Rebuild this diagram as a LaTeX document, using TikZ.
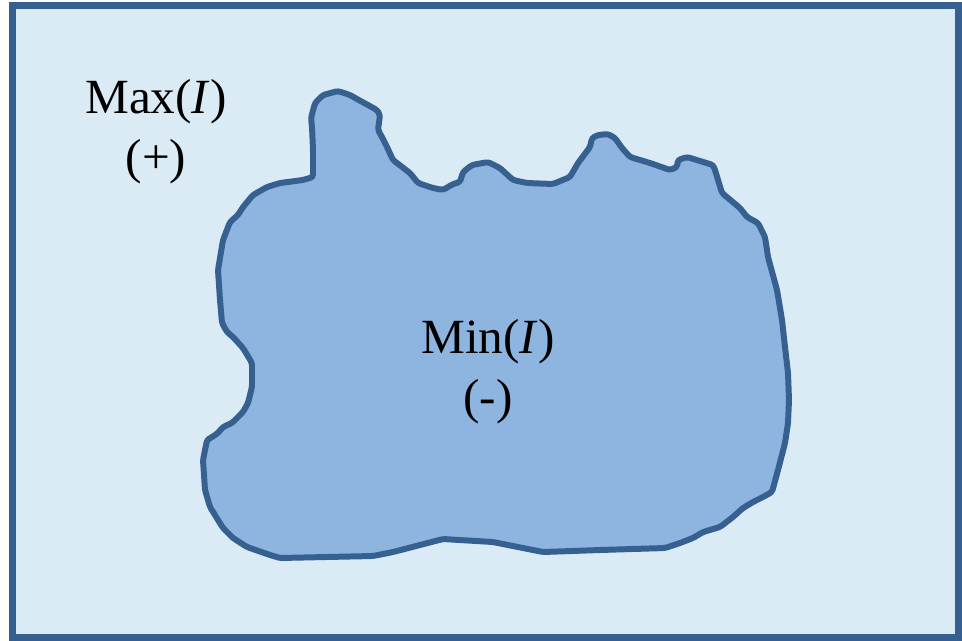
\documentclass[tikz,border=0pt]{standalone}
\usepackage{fontspec}
\setmainfont{Liberation Serif}
\usetikzlibrary{positioning}
\definecolor{paper}{HTML}{DBEBF5}
\definecolor{frame}{HTML}{36608F}
\definecolor{region}{HTML}{8EB4E0}
\tikzset{line join=round,line cap=round,
  every node/.style={font=\fontsize{28}{34}\selectfont},
  border/.style={draw=frame,fill=paper,line width=4pt},
  blob/.style={draw=frame,fill=region,line width=3.4pt,rounded corners=1.5pt},
  sign/.style={align=center,inner sep=0pt}}
\begin{document}
\begin{tikzpicture}[x=0.02cm,y=-0.02cm]
\useasboundingbox (0,0) rectangle (962,640);
\draw[border] (12.5,5.5) rectangle (958,637);
% the region where I is minimal
\draw[blob] (303,180)--(313,177)--(313,150)--(312,127)--(311,118)--(315,103)--(323,95)
  --(338,91)--(350,95)--(357,99)--(377,110)--(380,115)--(378,130)--(382,137)--(387,147)
  --(393,160)--(410,173)--(418,183)--(433,188)--(443,190)--(453,184)--(460,182)--(463,172)
  --(472,165)--(488,162)--(500,168)--(513,180)--(527,183)--(553,184)--(570,177)--(578,163)
  --(590,147)--(592,138)--(598,135)--(608,134)--(615,138)--(622,148)--(630,157)--(650,163)
  --(670,170)--(677,167)--(678,160)--(687,157)--(713,165)--(715,170)--(722,193)--(740,208)
  --(747,217)--(758,223)--(765,237)--(768,257)--(777,290)--(782,320)--(785,347)--(788,373)
  --(789,400)--(788,423)--(785,443)--(778,470)--(772,492)--(763,497)--(753,502)--(743,508)
  --(733,517)--(720,527)--(703,532)--(693,538)--(680,543)--(665,548)--(600,550)--(543,552)
  --(493,542)--(443,539)--(393,552)--(373,556)--(280,558)--(270,555)--(247,547)--(233,538)
  --(223,528)--(210,507)--(205,490)--(203,460)--(207,440)--(212,437)--(218,433)--(222,428)
  --(225,426)--(232,423)--(243,412)--(248,403)--(252,387)--(252,363)--(243,348)--(233,337)
  --(227,332)--(222,323)--(220,300)--(218,270)--(223,240)--(230,222)--(238,215)--(243,207)
  --(253,195)--(267,187)--(280,183)--cycle;
\node[sign] (maxI) at (156,132) {Max(\textit{I})\\(+)};
\node[sign] (minI) at (488,372) {Min(\textit{I})\\(-)};
\end{tikzpicture}
\end{document}
